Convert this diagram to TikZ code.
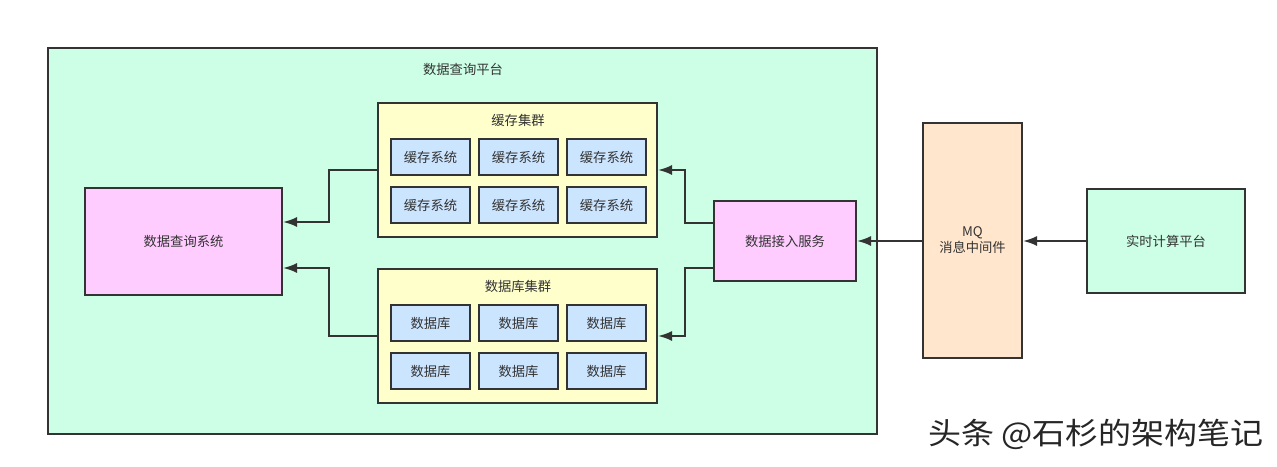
\documentclass[tikz,border=0pt]{standalone}
\usepackage{fontspec}
\setmainfont{Noto Sans CJK SC}
\usetikzlibrary{arrows.meta,calc}
\definecolor{mint}{HTML}{CCFFE6}
\definecolor{ylw}{HTML}{FFFFCC}
\definecolor{blu}{HTML}{CCE5FF}
\definecolor{pnk}{HTML}{FFCCFF}
\definecolor{org}{HTML}{FFE6CC}
\definecolor{ink}{HTML}{333333}
\begin{document}
\begin{tikzpicture}[x=1pt,y=-1pt,
  box/.style={draw=ink,line width=2pt,inner sep=0pt,text=ink,font=\fontsize{13.3}{16}\selectfont,align=center},
  item/.style={box,fill=blu,minimum width=79pt,minimum height=36pt},
  lbl/.style={text=ink,font=\fontsize{13.3}{16}\selectfont,inner sep=0pt},
  arr/.style={draw=ink,line width=2pt,-{Latex[length=14pt,width=10pt]}}]
\useasboundingbox[fill=white] (0,0) rectangle (1277,466);
% outer platform
\node[box,fill=mint,minimum width=829pt,minimum height=386pt] (plat) at (462.5,241) {};
\node[lbl] (platl) at (463,69) {数据查询平台};
% cache cluster
\node[box,fill=ylw,minimum width=279pt,minimum height=134pt] (cache) at (517.5,170) {};
\node[lbl] (cachel) at (518,120) {缓存集群};
\node[item] (c1) at (430.5,157) {缓存系统};
\node[item] (c2) at (518.5,157) {缓存系统};
\node[item] (c3) at (606.5,157) {缓存系统};
\node[item] (c4) at (430.5,205) {缓存系统};
\node[item] (c5) at (518.5,205) {缓存系统};
\node[item] (c6) at (606.5,205) {缓存系统};
% db cluster
\node[box,fill=ylw,minimum width=279pt,minimum height=134pt] (db) at (517.5,336) {};
\node[lbl] (dbl) at (518,286) {数据库集群};
\node[item] (d1) at (430.5,323) {数据库};
\node[item] (d2) at (518.5,323) {数据库};
\node[item] (d3) at (606.5,323) {数据库};
\node[item] (d4) at (430.5,371) {数据库};
\node[item] (d5) at (518.5,371) {数据库};
\node[item] (d6) at (606.5,371) {数据库};
% query system
\node[box,fill=pnk,minimum width=197pt,minimum height=107pt] (query) at (183.5,241.5) {数据查询系统};
% access service
\node[box,fill=pnk,minimum width=142pt,minimum height=80pt] (access) at (785,241) {数据接入服务};
% MQ
\node[box,fill=org,minimum width=99pt,minimum height=235pt] (mq) at (972.5,240.5) {MQ\\消息中间件};
% realtime
\node[box,fill=mint,minimum width=158pt,minimum height=104pt] (rt) at (1166,241) {实时计算平台};
% connectors
\draw[arr] (cache.west) -- ++(-48,0) |- ([yshift=19.5pt]query.east);
\draw[arr] (db.west) -- ++(-48,0) |- ([yshift=-26.5pt]query.east);
\draw[arr] ([yshift=18pt]access.west) -- ++(-28,0) |- (cache.east);
\draw[arr] ([yshift=-27pt]access.west) -- ++(-28,0) |- (db.east);
\draw[arr] (mq.west |- access.east) -- (access.east);
\draw[arr] (rt.west) -- (rt.west -| mq.east);
% watermark
\node[text=white,font=\fontsize{30}{33}\selectfont,inner sep=0pt,xscale=1.1] (wms) at (1094.5,435.5) {头条 @石杉的架构笔记};
\node[text=black!85,font=\fontsize{30}{33}\selectfont,inner sep=0pt,xscale=1.1] (wm) at (1096,434) {头条 @石杉的架构笔记};
\end{tikzpicture}
\end{document}
